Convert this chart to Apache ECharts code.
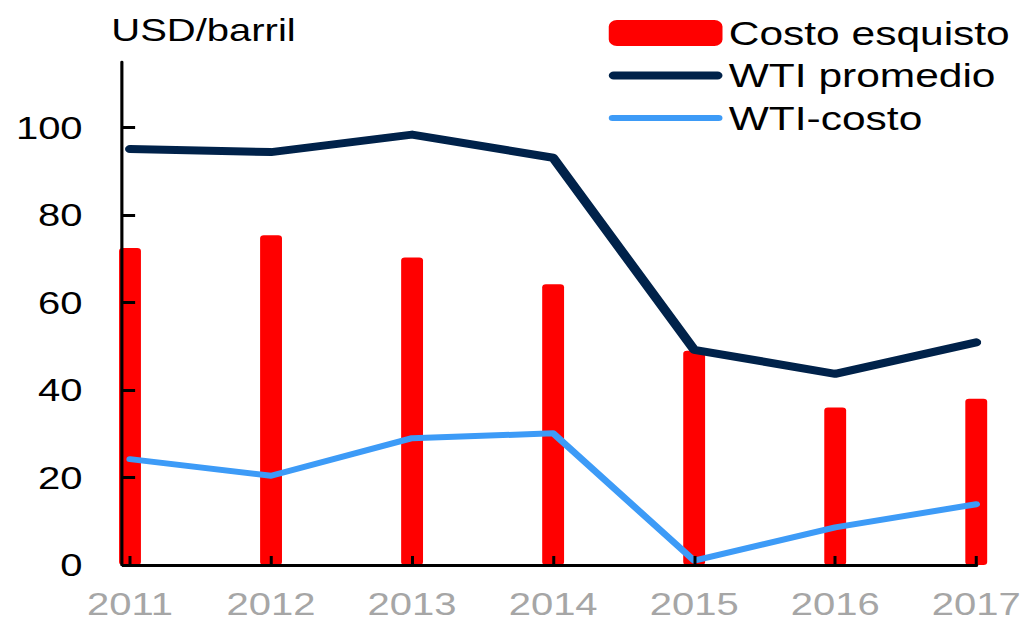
<!DOCTYPE html>
<html>
<head>
<meta charset="utf-8">
<script src="https://cdn.jsdelivr.net/npm/echarts@6/dist/echarts.min.js"></script>
<style>
  html, body { margin: 0; padding: 0; background: #fff; overflow: hidden; }
  /* the reference is stretched sideways, so the chart is drawn narrower and widened */
  #chart { width: 816px; height: 619px; transform: scaleX(1.25); transform-origin: 0 0; }
</style>
</head>
<body>
<div id="chart"></div>
<script>
  const years = ['2011', '2012', '2013', '2014', '2015', '2016', '2017'];
  const costoEsquisto = [72.5, 75.4, 70.3, 64.2, 49, 36, 38];
  const wtiPromedio = [95.1, 94.4, 98.4, 93.1, 49.2, 43.7, 50.9];
  const wtiCosto = [24.2, 20.4, 29.0, 30.1, 1.0, 8.6, 13.9];
  const yTicks = [0, 20, 40, 60, 80, 100];

  const myChart = echarts.init(document.getElementById('chart'), null, { renderer: 'svg' });

  const option = {
    animation: false,
    title: {
      text: 'USD/barril',
      left: 89,
      top: 14,
      padding: 0,
      textStyle: {
        fontFamily: 'Liberation Sans',
        fontSize: 32,
        fontWeight: 'normal',
        color: '#000'
      }
    },
    legend: {
      orient: 'vertical',
      left: 487,
      top: 16,
      padding: 0,
      itemWidth: 91,
      itemHeight: 26,
      itemGap: 8.5,
      textStyle: {
        fontFamily: 'Liberation Sans',
        fontSize: 34,
        color: '#000'
      },
      data: [
        { name: 'Costo esquisto', icon: 'roundRect' },
        {
          name: 'WTI promedio',
          icon: 'path://M5,0H109A5,5,0,0,1,109,10H5A5,5,0,0,1,5,0Z',
          itemStyle: { borderWidth: 0 }
        },
        {
          name: 'WTI-costo',
          icon: 'path://M3.75,0H110.25A3.75,3.75,0,0,1,110.25,7.5H3.75A3.75,3.75,0,0,1,3.75,0Z',
          itemStyle: { borderWidth: 0 }
        }
      ]
    },
    grid: {
      left: 104,
      right: 35,
      top: 62,
      bottom: 54,
      outerBoundsMode: 'none'
    },
    xAxis: {
      type: 'category',
      data: years,
      boundaryGap: false,
      z: 5,
      axisLine: { lineStyle: { color: '#000', width: 3 } },
      axisTick: {
        inside: true,
        length: 9,
        alignWithLabel: true,
        lineStyle: { color: '#000', width: 2.4 }
      },
      axisLabel: {
        interval: 0,
        margin: 23,
        fontFamily: 'Liberation Sans',
        fontSize: 32,
        color: '#A6A6A6'
      },
      splitLine: { show: false }
    },
    yAxis: {
      type: 'value',
      min: 0,
      max: 115,
      interval: 20,
      offset: 6.4,
      z: 5,
      axisLine: { show: true, lineStyle: { color: '#000', width: 2.5 } },
      axisTick: {
        show: true,
        inside: true,
        length: 10.5,
        customValues: yTicks,
        lineStyle: { color: '#000', width: 3 }
      },
      axisLabel: {
        margin: 31.5,
        customValues: yTicks,
        fontFamily: 'Liberation Sans',
        fontSize: 32,
        color: '#000'
      },
      splitLine: { show: false }
    },
    series: [
      {
        name: 'Costo esquisto',
        type: 'bar',
        data: costoEsquisto,
        barWidth: 17.5,
        itemStyle: { color: '#FF0000', borderRadius: 3 }
      },
      {
        name: 'WTI promedio',
        type: 'line',
        data: wtiPromedio,
        symbol: 'none',
        color: '#00224A',
        lineStyle: { color: '#00224A', width: 8, cap: 'round', join: 'round' }
      },
      {
        name: 'WTI-costo',
        type: 'line',
        data: wtiCosto,
        symbol: 'none',
        color: '#3D9BF7',
        lineStyle: { color: '#3D9BF7', width: 6, cap: 'round', join: 'round' }
      }
    ]
  };

  myChart.setOption(option);
</script>
</body>
</html>
